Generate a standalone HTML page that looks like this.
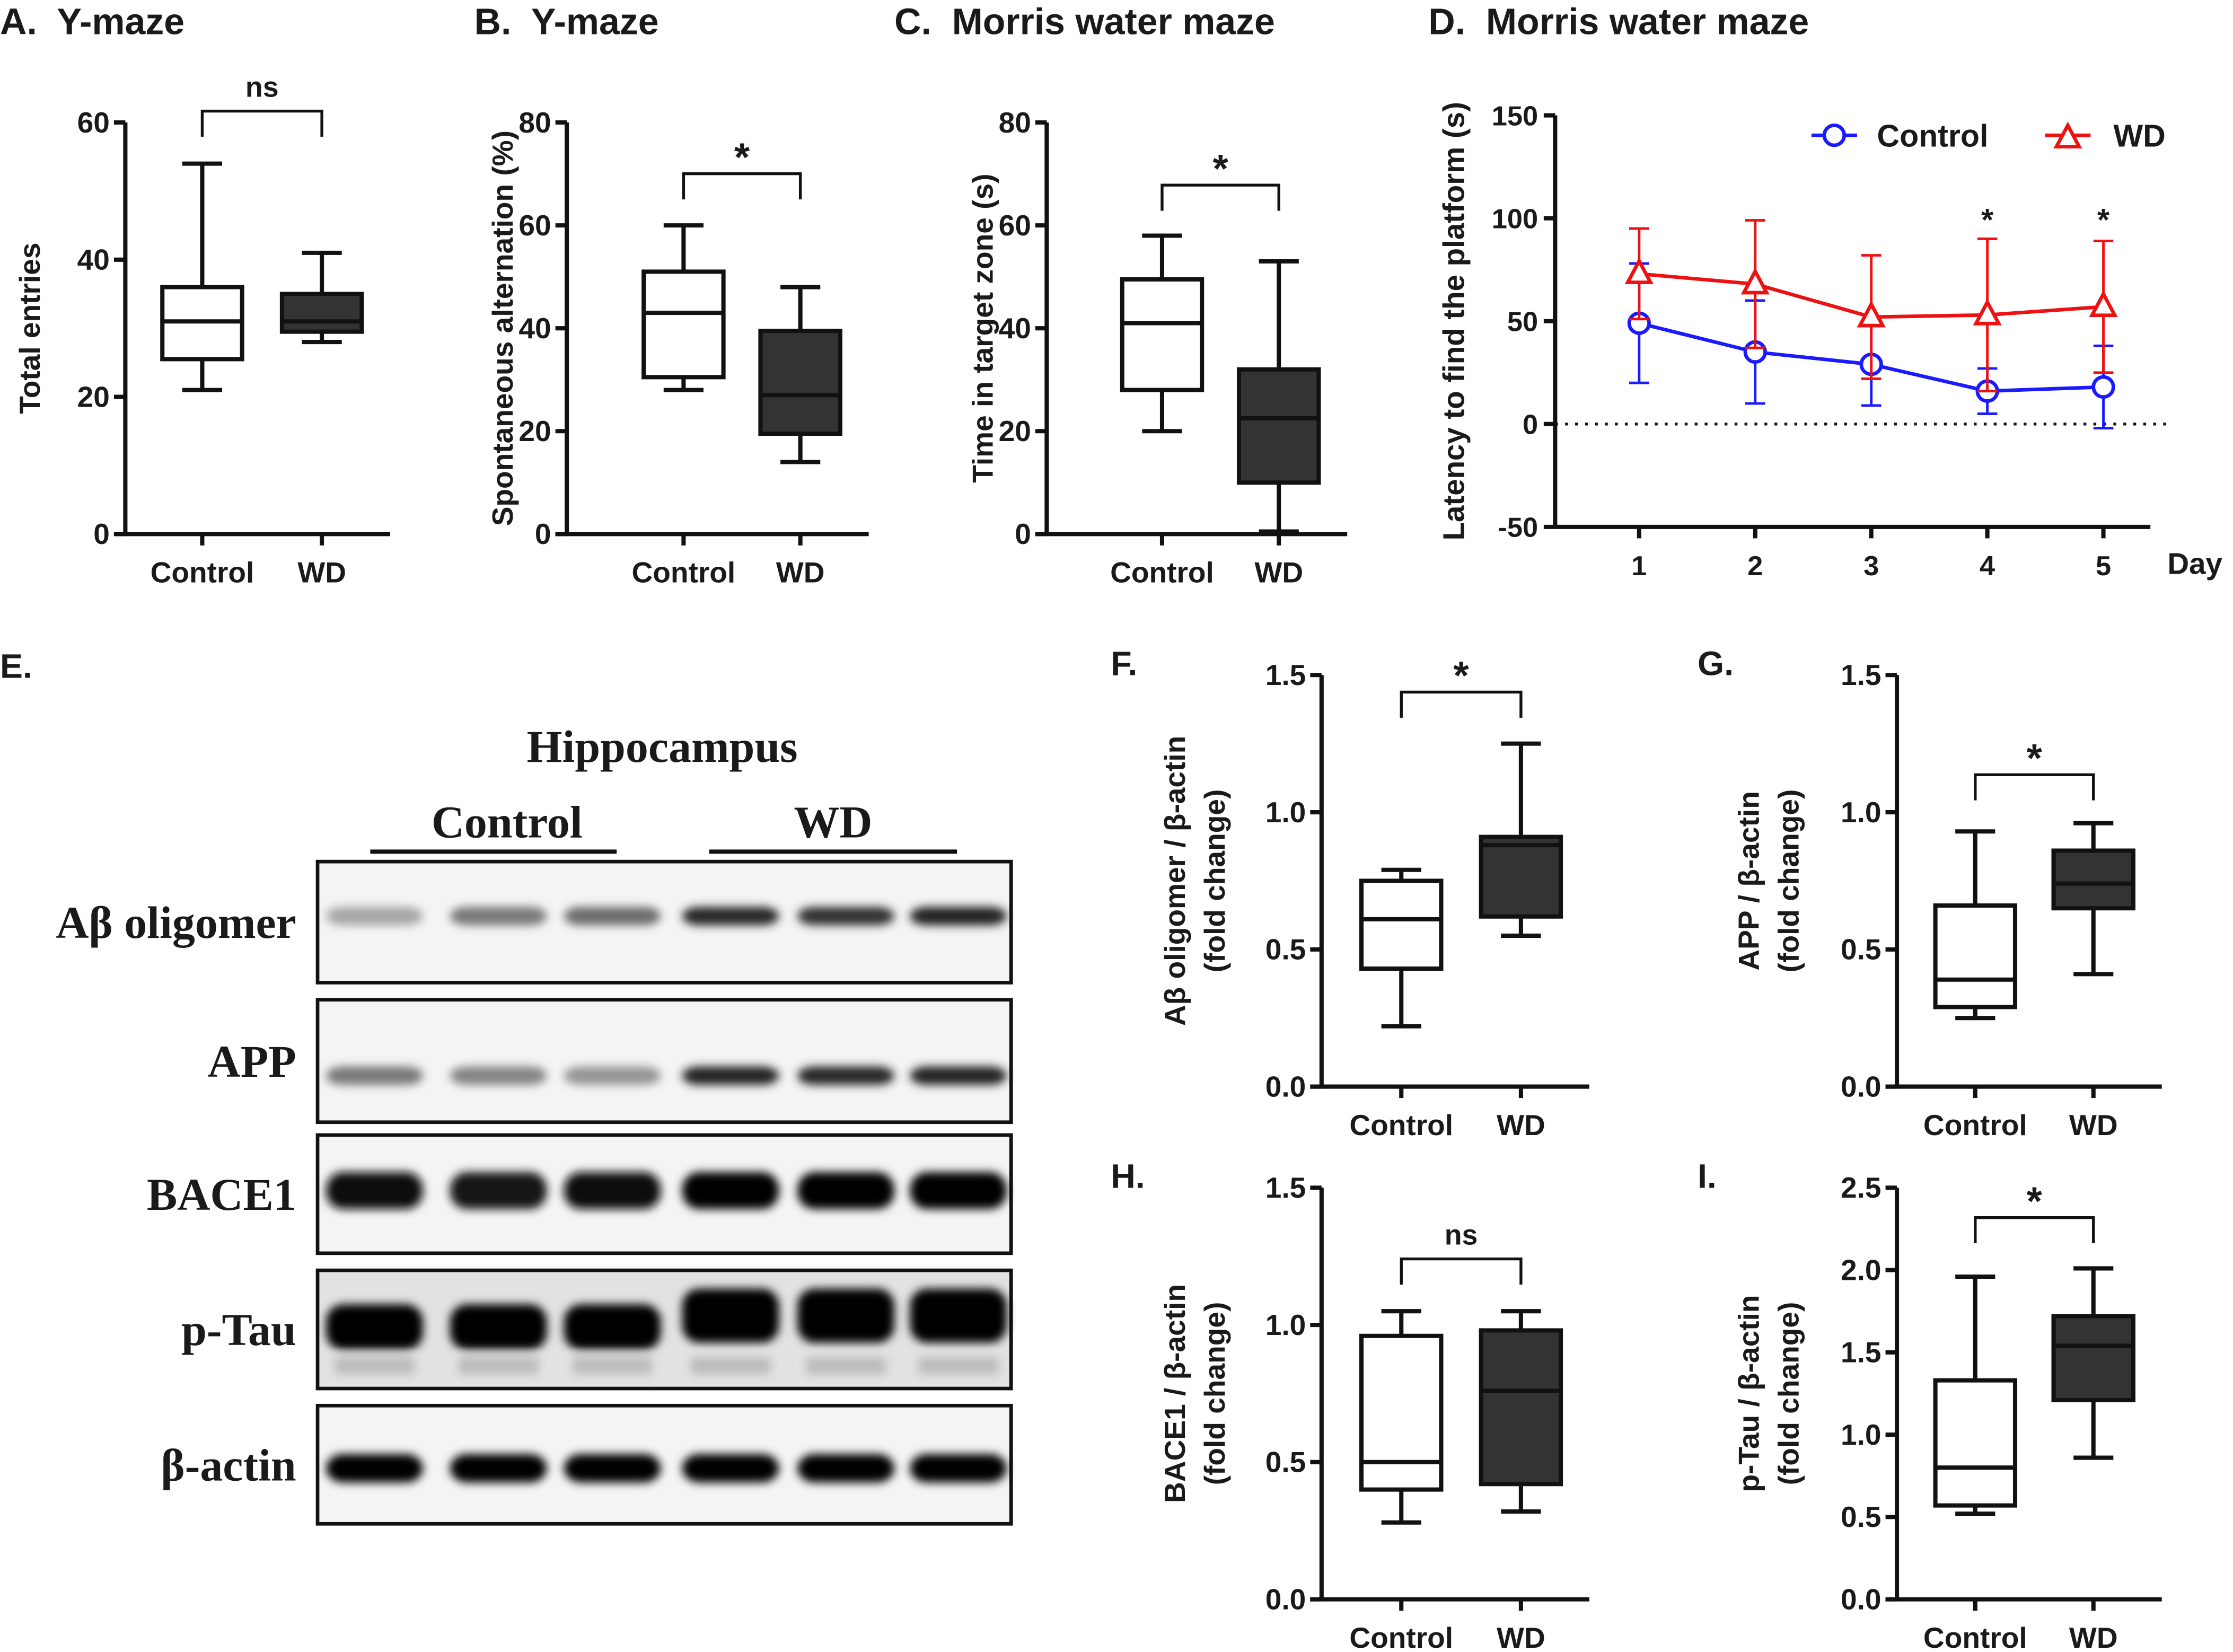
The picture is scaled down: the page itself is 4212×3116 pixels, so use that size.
<!DOCTYPE html>
<html><head><meta charset="utf-8"><style>
html,body{margin:0;padding:0;background:#fff}
svg{display:block}
text{font-family:"Liberation Sans",Arial,sans-serif;font-weight:bold;fill:#1a1a1a;white-space:pre}
.serif{font-family:"Liberation Serif","Times New Roman",serif}
</style></head><body>
<svg id="fig" xmlns="http://www.w3.org/2000/svg" width="4212" height="3116" viewBox="0 0 1568 1160">
<defs><filter id="blur" x="-20%" y="-60%" width="140%" height="220%"><feGaussianBlur stdDeviation="3.2"/></filter></defs>
<g id="blot">
<text x="0" y="476" font-size="24">E.</text>
<text class="serif" x="465" y="535" font-size="32" text-anchor="middle">Hippocampus</text>
<text class="serif" x="356" y="588" font-size="32" text-anchor="middle">Control</text>
<line x1="260" y1="598" x2="433" y2="598" stroke="#111" stroke-width="3"/>
<text class="serif" x="585" y="588" font-size="32" text-anchor="middle">WD</text>
<line x1="498" y1="598" x2="672" y2="598" stroke="#111" stroke-width="3"/>
</g>
</svg>
<script>
const NS="http://www.w3.org/2000/svg";
const svg=document.getElementById('fig');
function el(tag,attrs,parent,txt){const e=document.createElementNS(NS,tag);for(const k in attrs)e.setAttribute(k,attrs[k]);if(txt!==undefined)e.textContent=txt;(parent||svg).appendChild(e);return e;}

// ---- Box plot data (min, q1, median, q3, max) ----
const boxCategories=["Control","WD"];
const aControl=[21,25.5,31,36,54]; const aWD=[28,29.5,31,35,41];
const bControl=[28,30.5,43,51,60]; const bWD=[14,19.5,27,39.5,48];
const cControl=[20,28,41,49.5,58]; const cWD=[0.5,10,22.5,32,53];
const fControl=[0.22,0.43,0.61,0.75,0.79]; const fWD=[0.55,0.62,0.88,0.91,1.25];
const gControl=[0.25,0.29,0.39,0.66,0.93]; const gWD=[0.41,0.65,0.74,0.86,0.96];
const hControl=[0.28,0.40,0.50,0.96,1.05]; const hWD=[0.32,0.42,0.76,0.98,1.05];
const iControl=[0.52,0.57,0.80,1.33,1.96]; const iWD=[0.86,1.21,1.54,1.72,2.01];
const ticks60=[0,20,40,60]; const ticks80=[0,20,40,60,80];
const ticks15=[0,0.5,1.0,1.5]; const ticks25=[0,0.5,1.0,1.5,2.0,2.5];

function boxPanel(o){
  const g=el('g',{});
  
  
  const y=v=>o.y0-(v-o.min)/(o.max-o.min)*(o.y0-o.y1);
  const xs=[o.ax+o.c1,o.ax+o.c2];
  const sw=3;
  el('line',{x1:o.ax,y1:o.y1,x2:o.ax,y2:o.y0,stroke:'#111','stroke-width':sw},g);
  el('line',{x1:o.ax-8,y1:o.y0,x2:xs[1]+48,y2:o.y0,stroke:'#111','stroke-width':sw},g);
  xs.forEach(x=>el('line',{x1:x,y1:o.y0,x2:x,y2:o.y0+8,stroke:'#111','stroke-width':sw},g));
  o.ticks.forEach(t=>{el('line',{x1:o.ax-8,y1:y(t),x2:o.ax,y2:y(t),stroke:'#111','stroke-width':sw},g);
    const tl=el('text',{x:o.ax-11,y:y(t)+7,'font-size':20.5,'text-anchor':'end'},g,o.fmt?t.toFixed(1):t);
    
    });
  [o.d1,o.d2].forEach((d,i)=>{const x=xs[i],w=28;
    el('line',{x1:x,y1:y(d[0]),x2:x,y2:y(d[4]),stroke:'#111','stroke-width':sw},g);
    el('line',{x1:x-14,y1:y(d[0]),x2:x+14,y2:y(d[0]),stroke:'#111','stroke-width':sw},g);
    el('line',{x1:x-14,y1:y(d[4]),x2:x+14,y2:y(d[4]),stroke:'#111','stroke-width':sw},g);
    const b=el('rect',{x:x-w,y:y(d[3]),width:2*w,height:y(d[1])-y(d[3]),fill:i?'#333':'#fff',stroke:'#111','stroke-width':sw},g);
    
    
    el('line',{x1:x-w,y1:y(d[2]),x2:x+w,y2:y(d[2]),stroke:'#111','stroke-width':sw},g);
    const xl=el('text',{x:x,y:o.y0+34,'font-size':20.5,'text-anchor':'middle'},g,boxCategories[i]);
    
    
  });
  const by=o.by;
  el('path',{d:`M${xs[0]} ${by+18}V${by}H${xs[1]}V${by+18}`,fill:'none',stroke:'#111','stroke-width':2},g);
  el('text',{x:(xs[0]+xs[1])/2,y:by-(o.sig==='*'?2:10),'font-size':o.sig==='*'?28:20,'text-anchor':'middle','font-weight':'normal'},g,o.sig);
  const tx=o.ax-o.titleOff, ty=(o.y0+o.y1)/2;
  o.title.forEach((t,k)=>{const tt=el('text',{x:0,y:0,'font-size':20.5,'text-anchor':'middle',transform:`translate(${tx+k*28},${ty}) rotate(-90)`},g,t);
    
    });
  if(o.label){const pl=el('text',{x:o.lx,y:o.ly,'font-size':o.lsize||26},g,o.label);
    
    }
}
boxPanel({name:'panel-a',ax:88,y0:375,y1:86,min:0,max:60,ticks:ticks60,c1:54,c2:138,d1:aControl,d2:aWD,by:78,sig:'ns',title:['Total entries'],titleOff:60,label:'A.  Y-maze',lx:0,ly:24});
boxPanel({name:'panel-b',ax:398,y0:375,y1:86,min:0,max:80,ticks:ticks80,c1:82,c2:164,d1:bControl,d2:bWD,by:122,sig:'*',title:['Spontaneous alternation (%)'],titleOff:38,label:'B.  Y-maze',lx:333,ly:24});
boxPanel({name:'panel-c',ax:735,y0:375,y1:86,min:0,max:80,ticks:ticks80,c1:81,c2:163,d1:cControl,d2:cWD,by:130,sig:'*',title:['Time in target zone (s)'],titleOff:38,label:'C.  Morris water maze',lx:628,ly:24});
boxPanel({name:'panel-f',ax:928,y0:763,y1:474,min:0,max:1.5,ticks:ticks15,fmt:1,c1:56,c2:140,d1:fControl,d2:fWD,by:486,sig:'*',title:['Aβ oligomer / β-actin','(fold change)'],titleOff:96,label:'F.',lx:780,ly:474,lsize:24});
boxPanel({name:'panel-g',ax:1332,y0:763,y1:474,min:0,max:1.5,ticks:ticks15,fmt:1,c1:55,c2:138,d1:gControl,d2:gWD,by:544,sig:'*',title:['APP / β-actin','(fold change)'],titleOff:97,label:'G.',lx:1192,ly:474,lsize:24});
boxPanel({name:'panel-h',ax:928,y0:1123,y1:834,min:0,max:1.5,ticks:ticks15,fmt:1,c1:56,c2:140,d1:hControl,d2:hWD,by:884,sig:'ns',title:['BACE1 / β-actin','(fold change)'],titleOff:96,label:'H.',lx:780,ly:834,lsize:24});
boxPanel({name:'panel-i',ax:1332,y0:1123,y1:834,min:0,max:2.5,ticks:ticks25,fmt:1,c1:55,c2:138,d1:iControl,d2:iWD,by:855,sig:'*',title:['p-Tau / β-actin','(fold change)'],titleOff:97,label:'I.',lx:1192,ly:834,lsize:24});

// ---- Panel D line chart ----
const days=[1,2,3,4,5];
const dTicks=[-50,0,50,100,150];
const ctrlMean=[49,35,29,16,18]; const ctrlSD=[29,25,20,11,20];
const wdMean=[73,68,52,53,57]; const wdSD=[22,31,30,37,32];
const sigDays=[4,5];
(function(){
  const g=el('g',{});
  
  
  const ax=1092,y0=370,y1=81,vmin=-50,vmax=150;
  const y=v=>y0-(v-vmin)/(vmax-vmin)*(y0-y1);
  const x=d=>1151+(d-1)*81.5;
  el('line',{x1:ax,y1:y1,x2:ax,y2:y0,stroke:'#111','stroke-width':3},g);
  el('line',{x1:ax,y1:y0,x2:1510,y2:y0,stroke:'#111','stroke-width':3},g);
  el('line',{x1:ax,y1:y(0),x2:1525,y2:y(0),stroke:'#111','stroke-width':2,'stroke-dasharray':'2 5'},g);
  dTicks.forEach(t=>{el('line',{x1:ax-8,y1:y(t),x2:ax,y2:y(t),stroke:'#111','stroke-width':3},g);
    const tl=el('text',{x:ax-12,y:y(t)+7,'font-size':19.5,'text-anchor':'end'},g,t);
    
    });
  days.forEach(d=>{el('line',{x1:x(d),y1:y0,x2:x(d),y2:y0+8,stroke:'#111','stroke-width':3},g);
    const tl=el('text',{x:x(d),y:y0+34,'font-size':19.5,'text-anchor':'middle'},g,d);
    
    });
  el('text',{x:1522,y:y0+33,'font-size':21},g,'Day');
  const tt=el('text',{x:0,y:0,'font-size':21,'text-anchor':'middle',transform:`translate(1028,${(y0+y1)/2}) rotate(-90)`},g,'Latency to find the platform (s)');
  
  
  const pt=el('text',{x:1003,y:24,'font-size':26},g,'D.  Morris water maze');
  
  
  function series(mean,sd,col,marker,name){
    const s=el('g',{},g);
    
    
    days.forEach((d,i)=>{el('line',{x1:x(d),y1:y(mean[i]-sd[i]),x2:x(d),y2:y(mean[i]+sd[i]),stroke:col,'stroke-width':1.8},s);
      [mean[i]-sd[i],mean[i]+sd[i]].forEach(v=>el('line',{x1:x(d)-7,y1:y(v),x2:x(d)+7,y2:y(v),stroke:col,'stroke-width':1.8},s));});
    el('polyline',{points:days.map((d,i)=>x(d)+','+y(mean[i])).join(' '),fill:'none',stroke:col,'stroke-width':2.5},s);
    days.forEach((d,i)=>marker(s,x(d),y(mean[i])));
  }
  const circ=(p,cx,cy)=>el('circle',{cx:cx,cy:cy,r:7,fill:'#fff',stroke:'#1a1aff','stroke-width':2.5},p);
  const tri=(p,cx,cy)=>el('path',{d:`M${cx} ${cy-9}L${cx+8} ${cy+6}L${cx-8} ${cy+6}Z`,fill:'#fff',stroke:'#ee1111','stroke-width':2.5},p);
  series(ctrlMean,ctrlSD,'#1a1aff',circ,'series-control');
  series(wdMean,wdSD,'#ee1111',tri,'series-wd');
  sigDays.forEach(d=>el('text',{x:x(d),y:162,'font-size':22,'text-anchor':'middle','font-weight':'normal'},g,'*'));
  const l1=el('g',{},g);
  
  
  el('line',{x1:1272,y1:95,x2:1304,y2:95,stroke:'#1a1aff','stroke-width':2.5},l1);circ(l1,1288,95);
  el('text',{x:1318,y:103,'font-size':22},l1,'Control');
  const l2=el('g',{},g);
  
  
  el('line',{x1:1436,y1:95,x2:1468,y2:95,stroke:'#ee1111','stroke-width':2.5},l2);tri(l2,1452,97);
  el('text',{x:1484,y:103,'font-size':22},l2,'WD');
})();

// ---- Western blot ----
const blotLabels=["Aβ oligomer","APP","BACE1","p-Tau","β-actin"];
const blotIntensity=[[0.3,0.5,0.55,0.85,0.8,0.88],[0.5,0.45,0.38,0.88,0.85,0.88],[0.97,0.93,0.95,1,1,1],[1,1,1,1,1,1],[1,1,1,1,1,1]];
(function(){
  const g=document.getElementById('blot');
  const tops=[605,702,797,892,987], hs=[85,86,83,83,83];
  const lanes=[263,350,430,513,594,673];
  const bandPos=[0.45,0.62,0.47,0.48,0.53];
  const bandH=[13,13,26,32,20];
  blotLabels.forEach((lab,r)=>{
    const r0=el('rect',{x:223,y:tops[r],width:487,height:hs[r],fill:r===3?'#e2e2e2':'#f4f4f4',stroke:'#111','stroke-width':2.5},g);
    
    
    const bg=el('g',{filter:'url(#blur)'},g);
    const bandY=tops[r]+hs[r]*bandPos[r];
    lanes.forEach((lx,i)=>{const v=blotIntensity[r][i];
      let bh=bandH[r]; if(r===3&&i>2)bh=38;
      const c=Math.round(235-v*230);
      el('rect',{x:lx-34,y:(r===3&&i>2?bandY-8:bandY)-bh/2,width:68,height:bh,rx:12,fill:`rgb(${c},${c},${c})`},bg);
      if(r===3) el('rect',{x:lx-28,y:tops[r]+hs[r]-22,width:56,height:12,fill:'#bcbcbc'},bg);});
    const tl=el('text',{x:208,y:tops[r]+hs[r]/2+11,'font-size':32,'text-anchor':'end',class:'serif'},g,lab);
    
    
  });
})();
</script>
</body></html>
